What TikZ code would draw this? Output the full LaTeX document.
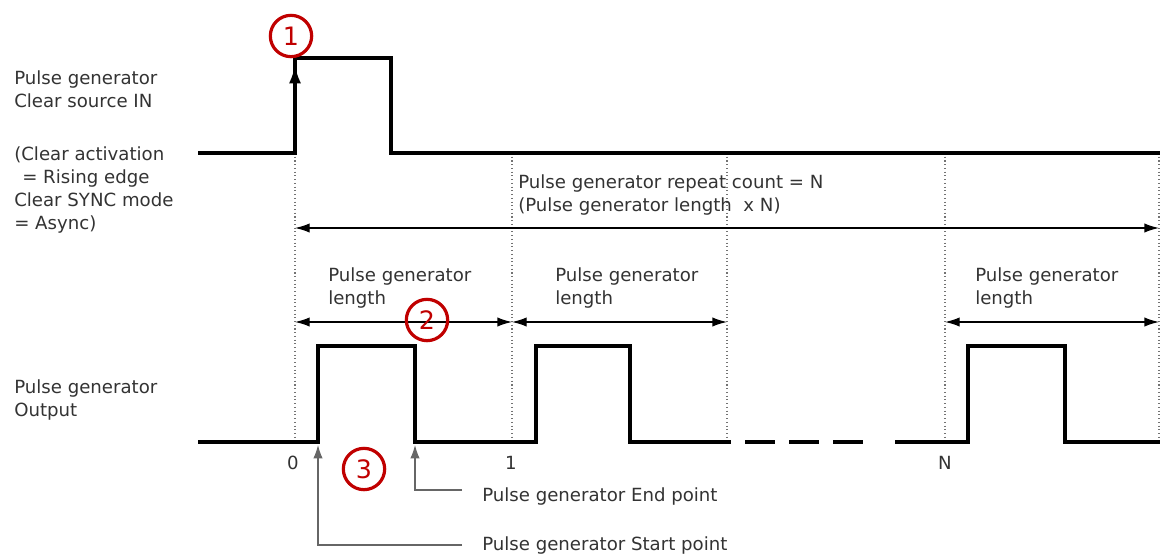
\documentclass[tikz,border=0pt]{standalone}
\usepackage{fontspec}
\setmainfont{DejaVu Sans}
\usetikzlibrary{arrows.meta}
\definecolor{txtgray}{HTML}{333333}
\definecolor{markred}{HTML}{C00000}
\tikzset{
  signal/.style={line width=3pt, line join=miter},
  guide/.style={dotted, gray!90!black, line width=0.8pt},
  dimline/.style={line width=1pt, {Latex[length=11pt,width=7pt]}-{Latex[length=11pt,width=7pt]}},
  callout/.style={line width=0.8pt, gray!80!black},
  lbl/.style={anchor=west, text=txtgray, inner sep=0pt, align=left,
    font=\fontsize{13.6}{17.25}\selectfont},
  tick/.style={text=txtgray, inner sep=0pt, font=\fontsize{13.6}{14}\selectfont},
  numcircle/.style={circle, draw=markred, line width=2.4pt, text=markred,
    minimum size=31pt, inner sep=0pt, font=\fontsize{19}{19}\selectfont}
}
\begin{document}
\begin{tikzpicture}[x=0.75pt, y=-0.75pt]
\useasboundingbox (0,0) rectangle (1160,557);

% time marks
\coordinate (t0) at (295,0);
\coordinate (t1) at (512,0);
\coordinate (t2) at (727,0);
\coordinate (tN) at (945,0);
\coordinate (tE) at (1159,0);

% dotted guides
\foreach \t in {t0,t1,t2,tN,tE}
  \draw[guide] (\t |- 0,153) -- (\t |- 0,442);

% clear source input
\draw[signal] (198,153) -- (295,153) -- (295,58) -- (391,58) -- (391,153) -- (1160,153);
\draw[line width=1.5pt, -{Latex[length=13pt,width=9pt]}] (295,100) -- (295,66);

% pulse output
\draw[signal] (198,442) -- (318,442) -- (318,346) -- (415,346) -- (415,442)
  -- (536,442) -- (536,346) -- (630,346) -- (630,442) -- (731,442);
\foreach \a in {745,789,833}
  \draw[signal] (\a,442) -- (\a+30,442);
\draw[signal] (895,442) -- (968,442) -- (968,346) -- (1065,346) -- (1065,442) -- (1160,442);

% left labels
\node[lbl] (clrin) at (14,89.5) {Pulse generator\\Clear source IN};
\node[lbl] (clrmode) at (14,189.5) {(Clear activation\\\hspace*{6pt}= Rising edge\\Clear SYNC mode\\= Async)};
\node[lbl] (outlbl) at (14,400) {Pulse generator\\Output};

% repeat count
\node[lbl] (rpt) at (518,195) {Pulse generator repeat count = N\\(Pulse generator length~~x N)};
\draw[dimline] (t0 |- 0,228) -- (tE |- 0,228);

% lengths
\node[lbl] (len1) at (328,288) {Pulse generator\\length};
\node[lbl] (len2) at (555,288) {Pulse generator\\length};
\node[lbl] (lenN) at (975,288) {Pulse generator\\length};
\draw[dimline] (t0 |- 0,322) -- (t1 |- 0,322);
\draw[dimline] (t1 |- 0,322) -- (t2 |- 0,322);
\draw[dimline] (tN |- 0,322) -- (tE |- 0,322);

% tick labels
\node[tick] (n0) at (293,463) {0};
\node[tick] (n1) at (511,463) {1};
\node[tick] (nN) at (945,463) {N};

% start / end points
\node[lbl] (endtxt) at (482,496) {Pulse generator End point};
\node[lbl] (starttxt) at (482,545) {Pulse generator Start point};
\coordinate (endtip) at (415,445);
\coordinate (starttip) at (318,445);
\coordinate (endfoot) at (462,490);
\coordinate (startfoot) at (462,545);
\draw[callout, -{Latex[length=10pt,width=7pt]}] (endfoot) -| (endtip);
\draw[callout, -{Latex[length=10pt,width=7pt]}] (startfoot) -| (starttip);

% numbered marks
\node[numcircle] (m1) at (291,36) {1};
\node[numcircle] (m2) at (427,320) {2};
\node[numcircle] (m3) at (364,469) {3};
\end{tikzpicture}
\end{document}
